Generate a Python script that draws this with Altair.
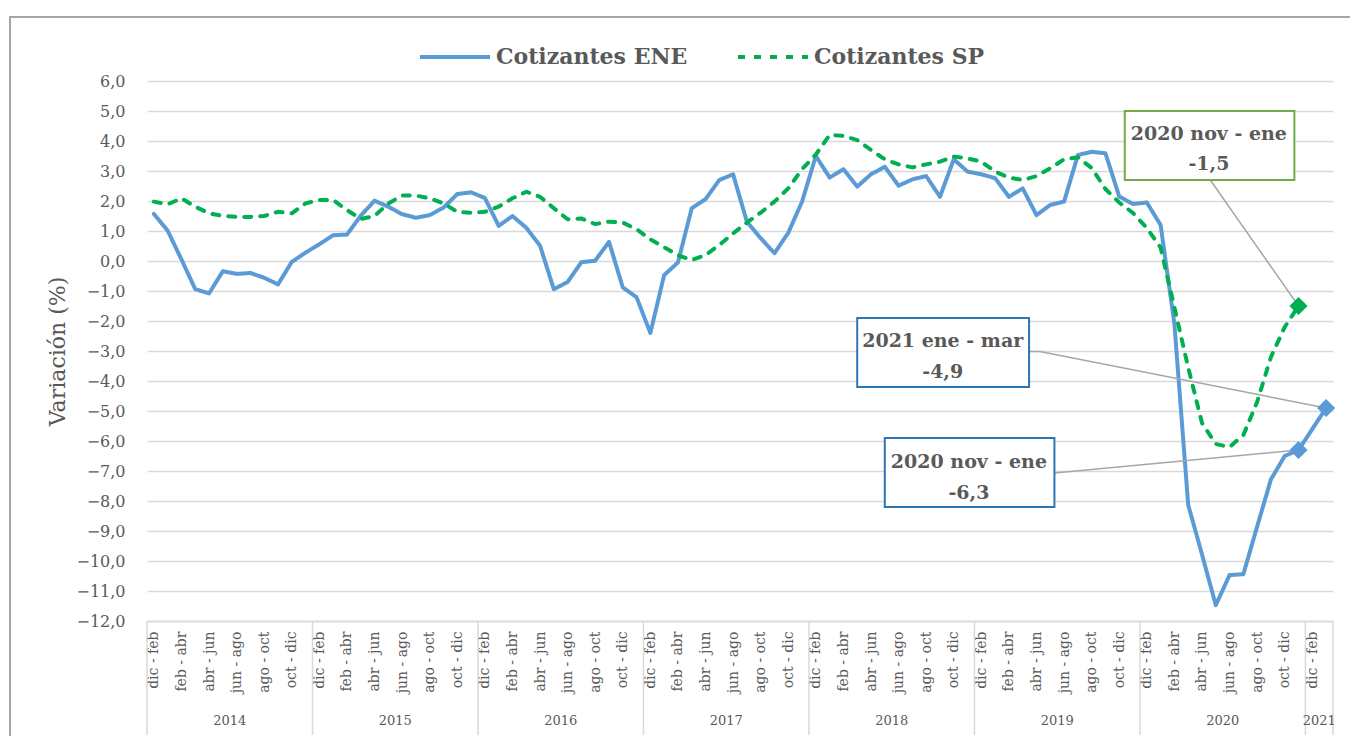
import json
import altair as alt
import pandas as pd

# ---------------- data ----------------
series = ["Cotizantes ENE", "Cotizantes SP"]
colors = ["#5B9BD5", "#00B050"]

month_periods = ["dic - feb", "ene - mar", "feb - abr", "mar - may", "abr - jun", "may - jul",
                 "jun - ago", "jul - sep", "ago - oct", "sep - nov", "oct - dic", "nov - ene"]
years = ["2014", "2015", "2016", "2017", "2018", "2019", "2020", "2021"]
periods = month_periods * 7 + ["dic - feb", "ene - mar"]

ene = [1.57, 1.01, 0.05, -0.94, -1.08, -0.34, -0.43, -0.40, -0.56, -0.78, -0.03, 0.28,
       0.56, 0.86, 0.88, 1.51, 2.01, 1.81, 1.56, 1.44, 1.53, 1.78, 2.23, 2.29,
       2.10, 1.17, 1.50, 1.11, 0.51, -0.94, -0.70, -0.04, 0.01, 0.64, -0.88, -1.21,
       -2.40, -0.47, -0.05, 1.76, 2.06, 2.70, 2.89, 1.31, 0.76, 0.26, 0.94, 1.98,
       3.50, 2.78, 3.06, 2.48, 2.89, 3.14, 2.51, 2.72, 2.83, 2.14, 3.39, 2.98,
       2.89, 2.76, 2.14, 2.42, 1.53, 1.87, 1.98, 3.53, 3.64, 3.59, 2.15, 1.90,
       1.95, 1.20, -2.10, -8.13, -9.78, -11.47, -10.47, -10.44, -8.85, -7.28, -6.50, -6.30,
       -5.60, -4.90]

sp = [1.98, 1.89, 2.09, 1.81, 1.59, 1.50, 1.47, 1.47, 1.50, 1.64, 1.59, 1.92,
      2.03, 2.03, 1.70, 1.40, 1.50, 1.92, 2.18, 2.18, 2.09, 1.92, 1.64, 1.61,
      1.64, 1.81, 2.09, 2.31, 2.14, 1.76, 1.39, 1.42, 1.23, 1.31, 1.28, 1.06,
      0.72, 0.46, 0.19, 0.03, 0.20, 0.53, 0.92, 1.28, 1.61, 1.98, 2.42, 3.06,
      3.55, 4.20, 4.17, 4.03, 3.70, 3.39, 3.22, 3.12, 3.22, 3.31, 3.48, 3.42,
      3.31, 2.98, 2.78, 2.70, 2.83, 3.09, 3.39, 3.46, 3.10, 2.40, 1.95, 1.60,
      1.10, 0.45, -1.55, -3.55, -5.40, -6.10, -6.20, -5.80, -4.70, -3.20, -2.20, -1.50]

# highlighted points (series, index)
highlights = [("Cotizantes ENE", 83), ("Cotizantes ENE", 85), ("Cotizantes SP", 83)]

# annotations: box text lines
ann_text = [
    ("2020 nov - ene", "-1,5", "#70AD47", "Cotizantes SP", 83),
    ("2021 ene - mar", "-4,9", "#2E75B6", "Cotizantes ENE", 85),
    ("2020 nov - ene", "-6,3", "#2E75B6", "Cotizantes ENE", 83),
]

# ---------------- layout constants (placement of annotation boxes, data units) ----------------
box_geo = [
    dict(x=70.9, x2=83.2, y=5.0, y2=2.7, tx=77.0, ty1=4.22, ty2=3.22),
    dict(x=51.5, x2=63.96, y=-1.9, y2=-4.2, tx=57.7, ty1=-2.66, ty2=-3.69),
    dict(x=53.5, x2=65.8, y=-5.9, y2=-8.2, tx=59.6, ty1=-6.69, ty2=-7.72),
]
leaders = [
    [(77.1, 2.7)],
    [(63.96, -3.02), (64.75, -3.02)],
    [(65.8, -7.07)],
]

FONT = "DejaVu Serif"
GRAY = "#595959"
N = len(periods)

# ---------------- frames ----------------
rows = []
for i, v in enumerate(ene):
    rows.append({"serie": series[0], "x": i + 0.5, "y": v})
for i, v in enumerate(sp):
    rows.append({"serie": series[1], "x": i + 0.5, "y": v})
df = pd.DataFrame(rows)

vals = {series[0]: ene, series[1]: sp}
df_hi = pd.DataFrame([{"x": i + 0.5, "y": vals[s][i], "color": colors[series.index(s)]}
                      for s, i in highlights])

df_box = pd.DataFrame([{**g, "stroke": a[2]} for g, a in zip(box_geo, ann_text)])
txt_rows = []
for g, a in zip(box_geo, ann_text):
    txt_rows.append({"x": g["tx"], "y": g["ty1"], "t": a[0]})
    txt_rows.append({"x": g["tx"], "y": g["ty2"], "t": a[1]})
df_txt = pd.DataFrame(txt_rows)

lead_rows = []
for k, (pts, a) in enumerate(zip(leaders, ann_text)):
    end = (a[4] + 0.5, vals[a[3]][a[4]])
    allp = pts + [end]
    for j, (px, py) in enumerate(allp):
        lead_rows.append({"k": k, "o": j, "x": px, "y": py})
df_lead = pd.DataFrame(lead_rows)

bounds = [0, 12, 24, 36, 48, 60, 72, 84, 86]
df_sep = pd.DataFrame({"x": bounds})
df_year = pd.DataFrame({"x": [6, 18, 30, 42, 54, 66, 78, 85], "t": years})

# ---------------- scales / axes ----------------
xscale = alt.Scale(domain=[0, N], nice=False, zero=False)
yscale = alt.Scale(domain=[-12, 6], nice=False, zero=False)

label_js = json.dumps(periods, ensure_ascii=False)
xaxis = alt.Axis(
    values=[i + 0.5 for i in range(0, N, 2)],
    labelExpr=f"{label_js}[floor(datum.value)]",
    labelAngle=270, labelAlign="right", labelBaseline="middle",
    labelPadding=10, labelFont=FONT, labelFontSize=14, labelColor=GRAY,
    labelOverlap=False, ticks=False, grid=False,
    domain=True, domainColor="#D9D9D9", domainWidth=1.5, title=None,
)
yaxis = alt.Axis(
    values=list(range(-12, 7)),
    labelExpr="replace(format(datum.value, '.1f'), '.', ',')",
    labelFont=FONT, labelFontSize=16, labelColor=GRAY, labelPadding=22,
    ticks=False, domain=False, grid=True, gridColor="#D9D9D9", gridWidth=1.5,
    title="Variación (%)", titleFont=FONT, titleFontSize=22, titleColor=GRAY,
    titleFontWeight="normal", titlePadding=6,
)

X = alt.X("x:Q", scale=xscale, axis=xaxis)
Y = alt.Y("y:Q", scale=yscale, axis=yaxis)

leg = alt.Legend(
    title=None, orient="none", legendX=271, legendY=-61, direction="horizontal",
    symbolType="stroke", symbolSize=4900, symbolStrokeWidth=4,
    labelFont=FONT, labelFontSize=22, labelFontWeight="bold", labelColor=GRAY,
    labelOffset=4, columnPadding=42, labelLimit=400,
)

lines = alt.Chart(df).mark_line(strokeWidth=4, strokeCap="round", strokeJoin="round").encode(
    x=X, y=Y,
    color=alt.Color("serie:N", scale=alt.Scale(domain=series, range=colors), legend=leg),
    strokeDash=alt.StrokeDash("serie:N", scale=alt.Scale(domain=series, range=[[1, 0], [7, 9]]), legend=leg),
    order="x:Q",
)

diamonds = alt.Chart(df_hi).mark_point(shape="diamond", filled=True, size=330, opacity=1).encode(
    x=X, y=Y, color=alt.Color("color:N", scale=None)
)

lead = alt.Chart(df_lead).mark_line(color="#A6A6A6", strokeWidth=1.5).encode(
    x=X, y=Y, detail="k:N", order="o:Q"
)

boxes = alt.Chart(df_box).mark_rect(fill="white", strokeWidth=2).encode(
    x=X, x2="x2:Q", y=Y, y2="y2:Q", stroke=alt.Stroke("stroke:N", scale=None)
)

texts = alt.Chart(df_txt).mark_text(font=FONT, fontSize=19, fontWeight="bold", color=GRAY,
                                    baseline="middle", align="center").encode(
    x=X, y=Y, text="t:N"
)

seps = alt.Chart(df_sep).mark_rule(color="#D9D9D9", strokeWidth=1.5).encode(
    x=X, y=alt.value(540), y2=alt.value(654)
)

year_txt = alt.Chart(df_year).mark_text(font=FONT, fontSize=13, color=GRAY, baseline="middle").encode(
    x=X, y=alt.value(640), text="t:N"
)

frame = alt.Chart(pd.DataFrame({"a": [0]})).mark_rect(
    filled=False, stroke="#A6A6A6", strokeWidth=2
).encode(x=alt.value(-137), x2=alt.value(1260), y=alt.value(-64), y2=alt.value(720))

chart = alt.layer(frame, seps, year_txt, lines, lead, diamonds, boxes, texts).properties(
    width=1186, height=540,
    autosize=alt.AutoSizeParams(type="none"),
    padding={"left": 139, "top": 73, "right": 17, "bottom": 115},
).configure(
    background="white", font=FONT
).configure_view(
    stroke=None
).configure_legend(
    labelFont=FONT, labelFontSize=22, labelFontWeight="bold", labelColor=GRAY
).configure_axis(
    labelFont=FONT, titleFont=FONT
)

chart.save("out.html", embed_options={"renderer": "svg", "actions": False})
